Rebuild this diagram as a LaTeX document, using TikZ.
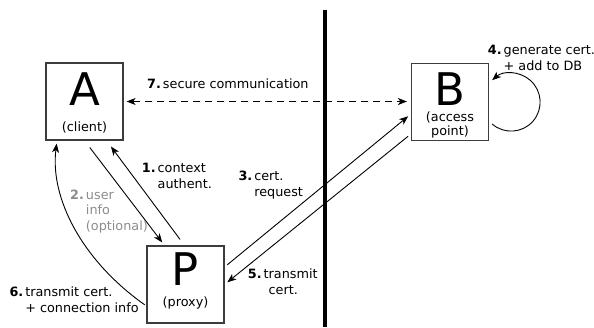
\documentclass[tikz,border=0pt]{standalone}
\usepackage{fontspec}
\setmainfont{DejaVu Sans}
\usepackage{xcolor}
\usetikzlibrary{arrows.meta,calc}
\definecolor{boxgray}{RGB}{60,60,60}
\definecolor{optgray}{RGB}{140,140,140}

\newcommand{\lblfont}{\fontsize{12.8}{15.8}\selectfont}
\newcommand{\stepnum}[3]{\begin{tabular}[t]{@{}l@{\hspace{2pt}}l@{}}\textbf{#1.}&#2\\&#3\end{tabular}}

\begin{document}
\begin{tikzpicture}[x=1pt, y=-1pt,
  entity/.style={draw=boxgray, line width=1.2pt, minimum width=77pt, minimum height=77pt, inner sep=0pt},
  bigletter/.style={font=\fontsize{45}{45}\selectfont, inner sep=0pt, anchor=base},
  subname/.style={font=\lblfont, inner sep=0pt, anchor=base},
  msg/.style={font=\lblfont, inner sep=0pt, anchor=base west},
  tip/.style={-{Stealth[length=9pt,width=7pt,inset=2.5pt]}},
  flow/.style={tip, line width=0.9pt}]

\useasboundingbox (0,0) rectangle (594,327);

% network boundary
\draw[line width=3.5pt] (325,10) -- (325,327);

% the three parties
\node[entity] (A) at (84.5,101.5) {};
\node[bigletter] (Aletter) at ([yshift=-3.5pt]A.center) {A};
\node[subname] (Aname) at ([yshift=-29.5pt]A.center) {(client)};

\node[entity] (B) at (450,102) {};
\node[bigletter] (Bletter) at ([yshift=-3pt]B.center) {B};
\node[subname, font=\fontsize{12.8}{14}\selectfont] (Bname) at ([yshift=-19.5pt]B.center)
  {\begin{tabular}[t]{@{}c@{}}(access\\point)\end{tabular}};

\node[entity] (P) at (185.5,284.5) {};
\node[bigletter] (Pletter) at ([yshift=-1pt]P.center) {P};
\node[subname] (Pname) at ([yshift=-21.5pt]P.center) {(proxy)};

% messages
\draw[flow, shorten <=8.7pt, shorten >=3.7pt] (A.south) -- ([xshift=-21pt]P.north);
\draw[flow, shorten <=7.4pt, shorten >=7.4pt] ([xshift=-1pt]P.north) -- ([xshift=22pt]A.south);
\draw[flow, shorten <=3.5pt, shorten >=3.5pt] ([yshift=17.5pt]P.east) -- ([yshift=-12pt]B.west);
\draw[flow] ([xshift=3pt,yshift=-22pt]B.east) arc[start angle=-131, end angle=131, radius=29pt];
\draw[flow, shorten <=3.5pt, shorten >=3.5pt] ([yshift=-32pt]B.west) -- (P.east);
\draw[flow, shorten <=2pt, shorten >=3pt] ([yshift=-21.5pt]P.west)
  .. controls +(-65pt,46pt) and +(-7pt,-57pt) .. ([xshift=-27.5pt]A.south);
\draw[flow, {Stealth[length=9pt,width=7pt,inset=2.5pt]}-{Stealth[length=9pt,width=7pt,inset=2.5pt]},
  dash pattern=on 7pt off 5pt, shorten <=3pt, shorten >=4pt] (A.east) -- (A.east -| B.west);

% labels
\node[msg] (m1) at (141.7,172.5) {\stepnum{1}{context}{authent.}};
\node[msg, text=optgray] (m2) at (70,199) {\stepnum{2}{user}{info\\&(optional)}};
\node[msg] (m3) at (238.3,180.5) {\stepnum{3}{cert.}{request}};
\node[msg] (m4) at (487.7,54.5) {\stepnum{4}{generate cert.}{+ add to DB}};
\node[msg] (m5) at (247.7,278.5) {\stepnum{5}{transmit}{\hspace{5pt}cert.}};
\node[msg] (m6) at (9.3,296.5) {\stepnum{6}{transmit cert.}{+ connection info}};
\node[msg] (m7) at (147,88.5) {\textbf{7.}\hspace{2pt}secure communication};

\end{tikzpicture}
\end{document}
